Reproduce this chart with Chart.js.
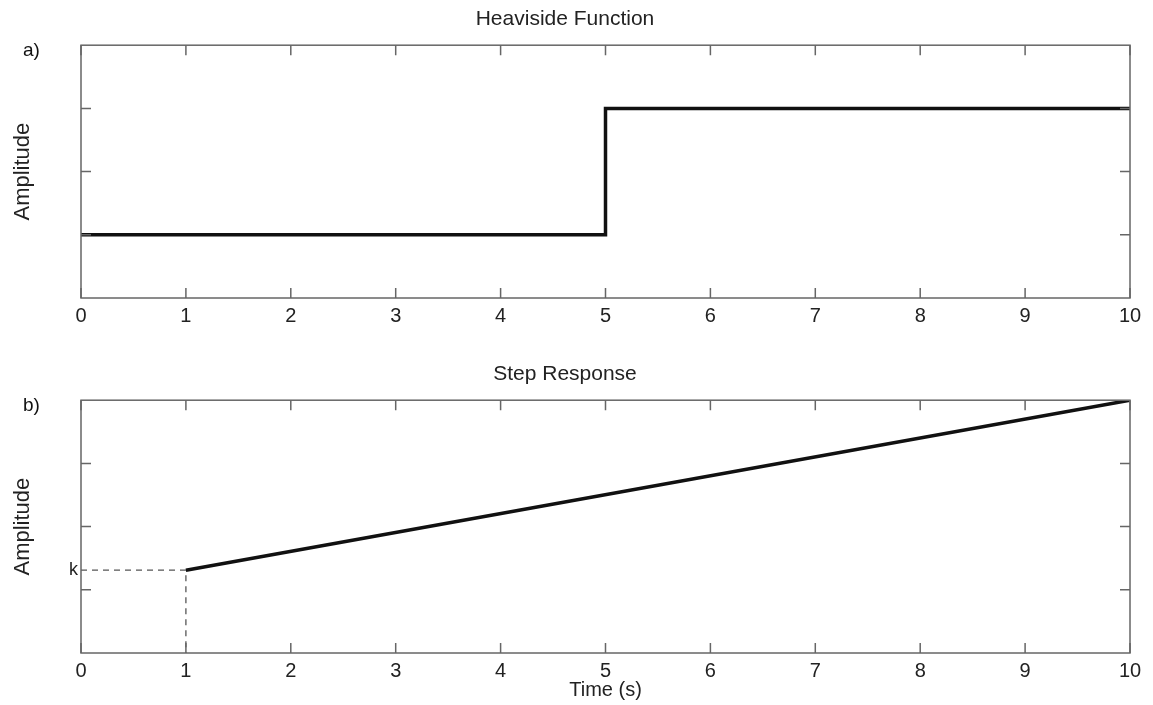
<!DOCTYPE html>
<html>
<head>
<meta charset="utf-8">
<script src="https://cdn.jsdelivr.net/npm/chart.js@4.4.1/dist/chart.umd.min.js"></script>
<style>
  html, body { margin: 0; padding: 0; background: #fff; }
  #wrap { position: relative; width: 1153px; height: 705px; }
  .panel { position: absolute; left: 0; width: 1153px; }
  #panelA { top: 0; height: 352px; }
  #panelB { top: 352px; height: 353px; }
</style>
</head>
<body>
<div id="wrap">
  <div class="panel" id="panelA"><canvas id="heavisideChart"></canvas></div>
  <div class="panel" id="panelB"><canvas id="stepChart"></canvas></div>
</div>
<script>
// ---- data ----
const xTickValues = [0, 1, 2, 3, 4, 5, 6, 7, 8, 9, 10];
const yTickMarks = [1, 2, 3];

// a) Heaviside step at t = 5
const heavisideX = [0, 5, 5, 10];
const heavisideY = [1, 1, 3, 3];

// b) ramp response starting at (1, k)
const kValue = 1.31;
const stepX = [1, 10];
const stepY = [kValue, 4];

// dashed guide lines to k
const guideX = [0, 1, 1];
const guideY = [kValue, kValue, 0];

const FONT = "'Liberation Sans', Arial, sans-serif";
const TEXT = "#222";
const FRAME = "#666";

function toPoints(xs, ys) {
  return xs.map((x, i) => ({ x: x, y: ys[i] }));
}

// frame box with inward tick marks (MATLAB style) + panel letter
function frameAndLabel(letter) {
  return {
    id: "frameAndLabel",
    afterDatasetsDraw(chart) {
      const ctx = chart.ctx;
      const area = chart.chartArea;
      const xs = chart.scales.x;
      const ys = chart.scales.y;
      const len = 10;
      ctx.save();
      ctx.strokeStyle = FRAME;
      ctx.lineWidth = 1.5;
      ctx.strokeRect(area.left, area.top, area.right - area.left, area.bottom - area.top);
      ctx.beginPath();
      xTickValues.forEach((v) => {
        const px = xs.getPixelForValue(v);
        ctx.moveTo(px, area.bottom);
        ctx.lineTo(px, area.bottom - len);
        ctx.moveTo(px, area.top);
        ctx.lineTo(px, area.top + len);
      });
      yTickMarks.forEach((v) => {
        const py = ys.getPixelForValue(v);
        ctx.moveTo(area.left, py);
        ctx.lineTo(area.left + len, py);
        ctx.moveTo(area.right, py);
        ctx.lineTo(area.right - len, py);
      });
      ctx.stroke();

      ctx.fillStyle = "#111";
      ctx.font = "19px " + FONT;
      ctx.textBaseline = "middle";
      ctx.textAlign = "left";
      ctx.fillText(letter, 23, area.top + 6);
      ctx.restore();
    },
  };
}

function makeOptions(opts) {
  return {
    responsive: true,
    maintainAspectRatio: false,
    animation: false,
    events: [],
    layout: { padding: { left: 0, right: 23, top: 0, bottom: 0 } },
    plugins: {
      legend: { display: false },
      tooltip: { enabled: false },
      title: {
        display: true,
        text: opts.title,
        color: TEXT,
        font: { family: FONT, size: 21, weight: "normal" },
        padding: opts.titlePadding,
      },
    },
    scales: {
      x: {
        type: "linear",
        min: 0,
        max: 10,
        grid: { display: false, drawTicks: false },
        border: { display: false },
        ticks: {
          stepSize: 1,
          color: TEXT,
          padding: 6,
          font: { family: FONT, size: 20 },
        },
        title: opts.xTitle
          ? {
              display: true,
              text: opts.xTitle,
              color: TEXT,
              font: { family: FONT, size: 20 },
              padding: { top: 0, bottom: 3 },
            }
          : { display: false },
        afterFit: (s) => { s.height = opts.xHeight; },
      },
      y: {
        type: "linear",
        min: 0,
        max: 4,
        grid: { display: false, drawTicks: false },
        border: { display: false },
        ticks: {
          color: TEXT,
          padding: 3,
          font: { family: FONT, size: 18 },
          callback: (v) => (opts.kLabel && Math.abs(v - kValue) < 1e-6 ? "k" : ""),
        },
        afterBuildTicks: (s) => {
          s.ticks = opts.kLabel ? [{ value: kValue }] : [];
        },
        title: {
          display: true,
          text: "Amplitude",
          color: TEXT,
          font: { family: FONT, size: 22 },
          padding: { top: 10, bottom: 0 },
        },
        afterFit: (s) => { s.width = 81; },
      },
    },
  };
}

document.addEventListener("DOMContentLoaded", function () {
  // a) Heaviside Function
  new Chart(document.getElementById("heavisideChart"), {
    type: "line",
    data: {
      datasets: [
        {
          data: toPoints(heavisideX, heavisideY),
          borderColor: "#111",
          borderWidth: 3.5,
          pointRadius: 0,
          tension: 0,
          fill: false,
        },
      ],
    },
    options: makeOptions({
      title: "Heaviside Function",
      titlePadding: { top: 7, bottom: 13 },
      xHeight: 54,
      kLabel: false,
    }),
    plugins: [frameAndLabel("a)")],
  });

  // b) Step Response
  new Chart(document.getElementById("stepChart"), {
    type: "line",
    data: {
      datasets: [
        {
          data: toPoints(stepX, stepY),
          borderColor: "#111",
          borderWidth: 3.5,
          pointRadius: 0,
          tension: 0,
          fill: false,
        },
        {
          data: toPoints(guideX, guideY),
          borderColor: "#555",
          borderWidth: 1.3,
          borderDash: [6, 5],
          pointRadius: 0,
          tension: 0,
          fill: false,
        },
      ],
    },
    options: makeOptions({
      title: "Step Response",
      titlePadding: { top: 10, bottom: 13 },
      xHeight: 52,
      xTitle: "Time (s)",
      kLabel: true,
    }),
    plugins: [frameAndLabel("b)")],
  });
});
</script>
</body>
</html>
